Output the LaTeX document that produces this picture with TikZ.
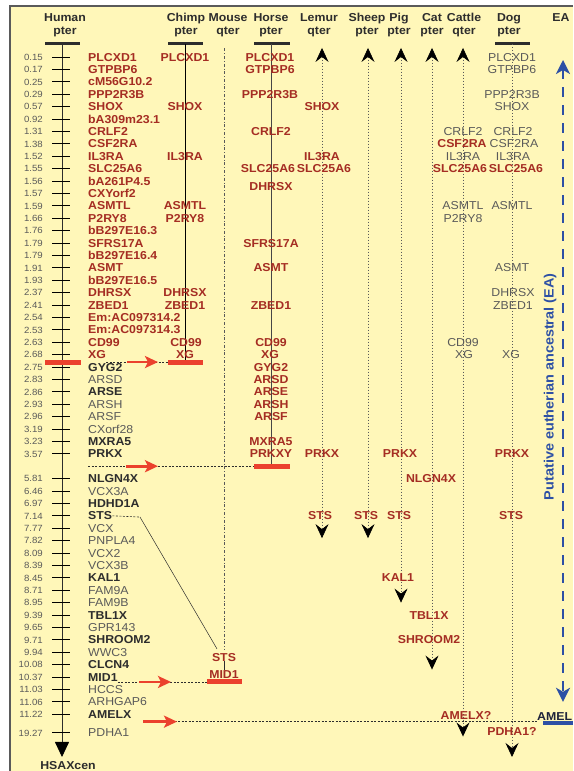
\documentclass[tikz,border=0pt]{standalone}
\usepackage{fontspec}
\setmainfont{Liberation Sans}[FakeStretch=1.07]
\usetikzlibrary{arrows.meta}
\definecolor{panel}{RGB}{255,247,185}
\definecolor{framecol}{RGB}{90,90,90}
\definecolor{genered}{RGB}{165,45,35}
\definecolor{genedark}{RGB}{45,45,45}
\definecolor{genegray}{RGB}{90,90,90}
\definecolor{barred}{RGB}{235,65,45}
\definecolor{eablue}{RGB}{45,80,165}
\definecolor{amelcol}{RGB}{30,35,60}
\newcommand{\genefont}{\fontsize{11.5}{13}\selectfont}
\newcommand{\numfont}{\fontsize{9}{10}\selectfont}
\tikzset{
  hdr/.style={font=\genefont\bfseries, text=genedark, align=center, inner sep=0pt},
  gene/.style={inner sep=0pt, text height=8.2pt, text depth=0pt},
  rg/.style={gene, font=\genefont\bfseries, text=genered},
  bg/.style={gene, font=\genefont\bfseries, text=genedark},
  gg/.style={gene, font=\genefont, text=genegray},
  num/.style={gene, font=\numfont, text=genegray, anchor=east, text height=6.4pt},
  tickln/.style={black, line width=0.9pt},
  chrbar/.style={genedark, line width=3pt},
  redbar/.style={barred, line width=5pt},
  redarrow/.style={barred, line width=2.6pt, -{Stealth[length=13pt,width=12pt,inset=3pt]}},
  link/.style={genedark, line width=0.6pt, dash pattern=on 2pt off 1.5pt},
  coldot/.style={gray!70!black, line width=0.7pt, dash pattern=on 1.2pt off 1.8pt},
  eaarrow/.style={eablue, line width=2.5pt, dash pattern=on 10pt off 8pt,
    {Stealth[length=14pt,width=14pt,inset=4pt]}-{Stealth[length=14pt,width=14pt,inset=4pt]}}
}
\begin{document}
\begin{tikzpicture}[x=1pt, y=-12.4pt, >={Stealth[length=14pt,width=13pt,inset=5pt,black]}]
\useasboundingbox (0,-4.597) rectangle (573,57.58);
\fill[panel] (10,-4.11) rectangle (573,57.58);
\draw[framecol, line width=1.5pt] (10,57.58) -- (10,-4.11) -- (573,-4.11);

\node[hdr] (hdhum) at (65,-2.58) {Human\\pter};
\node[hdr] (hdchi) at (186,-2.58) {Chimp\\pter};
\node[hdr] (hdmou) at (228,-2.58) {Mouse\\qter};
\node[hdr] (hdhor) at (271,-2.58) {Horse\\pter};
\node[hdr] (hdlem) at (319,-2.58) {Lemur\\qter};
\node[hdr] (hdshe) at (367,-2.58) {Sheep\\pter};
\node[hdr] (hdpig) at (399,-2.58) {Pig\\pter};
\node[hdr] (hdcat) at (432,-2.58) {Cat\\pter};
\node[hdr] (hdcow) at (464,-2.58) {Cattle\\qter};
\node[hdr] (hddog) at (509,-2.58) {Dog\\pter};
\node[hdr] (hdea) at (561,-3.2) {EA};

\coordinate (htop) at (62,-1.05);
\coordinate (hend) at (62,56.45);
\draw[genedark, line width=0.8pt, -{Triangle[length=15pt,width=14pt,black]}] (htop) -- (hend);
\draw[chrbar] (45,-1.05) -- (80,-1.05);
\foreach \r in {0,...,32} \draw[tickln] (52,\r) -- (70,\r);
\foreach \r in {34,...,53,54.5} \draw[tickln] (52,\r) -- (70,\r);
\node[bg] (hcen) at (68,57.1) {HSAXcen};

\node[num] (n0) at (43,0) {0.15};
\node[num] (n1) at (43,1) {0.17};
\node[num] (n2) at (43,2) {0.25};
\node[num] (n3) at (43,3) {0.29};
\node[num] (n4) at (43,4) {0.57};
\node[num] (n5) at (43,5) {0.92};
\node[num] (n6) at (43,6) {1.31};
\node[num] (n7) at (43,7) {1.38};
\node[num] (n8) at (43,8) {1.52};
\node[num] (n9) at (43,9) {1.55};
\node[num] (n10) at (43,10) {1.56};
\node[num] (n11) at (43,11) {1.57};
\node[num] (n12) at (43,12) {1.59};
\node[num] (n13) at (43,13) {1.66};
\node[num] (n14) at (43,14) {1.76};
\node[num] (n15) at (43,15) {1.79};
\node[num] (n16) at (43,16) {1.79};
\node[num] (n17) at (43,17) {1.91};
\node[num] (n18) at (43,18) {1.93};
\node[num] (n19) at (43,19) {2.37};
\node[num] (n20) at (43,20) {2.41};
\node[num] (n21) at (43,21) {2.54};
\node[num] (n22) at (43,22) {2.53};
\node[num] (n23) at (43,23) {2.63};
\node[num] (n24) at (43,24) {2.68};
\node[num] (n25) at (43,25) {2.75};
\node[num] (n26) at (43,26) {2.83};
\node[num] (n27) at (43,27) {2.86};
\node[num] (n28) at (43,28) {2.93};
\node[num] (n29) at (43,29) {2.96};
\node[num] (n30) at (43,30) {3.19};
\node[num] (n31) at (43,31) {3.23};
\node[num] (n32) at (43,32) {3.57};
\node[num] (n34) at (43,34) {5.81};
\node[num] (n35) at (43,35) {6.46};
\node[num] (n36) at (43,36) {6.97};
\node[num] (n37) at (43,37) {7.14};
\node[num] (n38) at (43,38) {7.77};
\node[num] (n39) at (43,39) {7.82};
\node[num] (n40) at (43,40) {8.09};
\node[num] (n41) at (43,41) {8.39};
\node[num] (n42) at (43,42) {8.45};
\node[num] (n43) at (43,43) {8.71};
\node[num] (n44) at (43,44) {8.95};
\node[num] (n45) at (43,45) {9.39};
\node[num] (n46) at (43,46) {9.65};
\node[num] (n47) at (43,47) {9.71};
\node[num] (n48) at (43,48) {9.94};
\node[num] (n49) at (43,49) {10.08};
\node[num] (n50) at (43,50) {10.37};
\node[num] (n51) at (43,51) {11.03};
\node[num] (n52) at (43,52) {11.06};
\node[num] (n53) at (43,53) {11.22};
\node[num] (n54) at (43,54.5) {19.27};

\node[rg, anchor=west] (h0) at (88,0) {PLCXD1};
\node[rg, anchor=west] (h1) at (88,1) {GTPBP6};
\node[rg, anchor=west] (h2) at (88,2) {cM56G10.2};
\node[rg, anchor=west] (h3) at (88,3) {PPP2R3B};
\node[rg, anchor=west] (h4) at (88,4) {SHOX};
\node[rg, anchor=west] (h5) at (88,5) {bA309m23.1};
\node[rg, anchor=west] (h6) at (88,6) {CRLF2};
\node[rg, anchor=west] (h7) at (88,7) {CSF2RA};
\node[rg, anchor=west] (h8) at (88,8) {IL3RA};
\node[rg, anchor=west] (h9) at (88,9) {SLC25A6};
\node[rg, anchor=west] (h10) at (88,10) {bA261P4.5};
\node[rg, anchor=west] (h11) at (88,11) {CXYorf2};
\node[rg, anchor=west] (h12) at (88,12) {ASMTL};
\node[rg, anchor=west] (h13) at (88,13) {P2RY8};
\node[rg, anchor=west] (h14) at (88,14) {bB297E16.3};
\node[rg, anchor=west] (h15) at (88,15) {SFRS17A};
\node[rg, anchor=west] (h16) at (88,16) {bB297E16.4};
\node[rg, anchor=west] (h17) at (88,17) {ASMT};
\node[rg, anchor=west] (h18) at (88,18) {bB297E16.5};
\node[rg, anchor=west] (h19) at (88,19) {DHRSX};
\node[rg, anchor=west] (h20) at (88,20) {ZBED1};
\node[rg, anchor=west] (h21) at (88,21) {Em:AC097314.2};
\node[rg, anchor=west] (h22) at (88,22) {Em:AC097314.3};
\node[rg, anchor=west] (h23) at (88,23) {CD99};
\node[rg, anchor=west] (h24) at (88,24) {XG};
\node[bg, anchor=west] (h25) at (88,25) {GYG2};
\node[gg, anchor=west] (h26) at (88,26) {ARSD};
\node[bg, anchor=west] (h27) at (88,27) {ARSE};
\node[gg, anchor=west] (h28) at (88,28) {ARSH};
\node[gg, anchor=west] (h29) at (88,29) {ARSF};
\node[gg, anchor=west] (h30) at (88,30) {CXorf28};
\node[bg, anchor=west] (h31) at (88,31) {MXRA5};
\node[bg, anchor=west] (h32) at (88,32) {PRKX};
\node[bg, anchor=west] (h34) at (88,34) {NLGN4X};
\node[gg, anchor=west] (h35) at (88,35) {VCX3A};
\node[bg, anchor=west] (h36) at (88,36) {HDHD1A};
\node[bg, anchor=west] (h37) at (88,37) {STS};
\node[gg, anchor=west] (h38) at (88,38) {VCX};
\node[gg, anchor=west] (h39) at (88,39) {PNPLA4};
\node[gg, anchor=west] (h40) at (88,40) {VCX2};
\node[gg, anchor=west] (h41) at (88,41) {VCX3B};
\node[bg, anchor=west] (h42) at (88,42) {KAL1};
\node[gg, anchor=west] (h43) at (88,43) {FAM9A};
\node[gg, anchor=west] (h44) at (88,44) {FAM9B};
\node[bg, anchor=west] (h45) at (88,45) {TBL1X};
\node[gg, anchor=west] (h46) at (88,46) {GPR143};
\node[bg, anchor=west] (h47) at (88,47) {SHROOM2};
\node[gg, anchor=west] (h48) at (88,48) {WWC3};
\node[bg, anchor=west] (h49) at (88,49) {CLCN4};
\node[bg, anchor=west] (h50) at (88,50) {MID1};
\node[gg, anchor=west] (h51) at (88,51) {HCCS};
\node[gg, anchor=west] (h52) at (88,52) {ARHGAP6};
\node[bg, anchor=west] (h53) at (88,53) {AMELX};
\node[gg, anchor=west] (h54) at (88,54.5) {PDHA1};

\draw[chrbar] (168,-1.05) -- (203,-1.05);
\coordinate (chtop) at (185,-1.05);
\coordinate (chend) at (185,24.6);
\draw[black, line width=0.8pt] (chtop) -- (chend);
\node[rg] (ch0) at (185,0) {PLCXD1};
\node[rg] (ch4) at (185,4) {SHOX};
\node[rg] (ch8) at (185,8) {IL3RA};
\node[rg] (ch12) at (185,12) {ASMTL};
\node[rg] (ch13) at (185,13) {P2RY8};
\node[rg] (ch19) at (185,19) {DHRSX};
\node[rg] (ch20) at (185,20) {ZBED1};
\node[rg] (ch23) at (186,23) {CD99};
\node[rg] (ch24) at (185,24) {XG};
\draw[redbar] (45,24.6) -- (81,24.6);
\draw[redbar] (168,24.6) -- (203,24.6);
\coordinate (chbar) at (168,24.6);
\coordinate (xga) at (127,24.6);
\coordinate (xgb) at (158,24.6);
\draw[link] (h24.south east |- chbar) -- (chbar);
\draw[redarrow] (xga) -- (xgb);

\coordinate (mtop) at (224,-0.7);
\node[rg] (msts) at (224,48.4) {STS};
\node[rg] (mmid) at (224,49.8) {MID1};
\draw[gray!70!black, line width=0.6pt, dash dot] (mtop) -- ([yshift=4pt]msts.north);
\draw[genedark, line width=0.6pt] (msts.south) -- (mmid.north);
\draw[redbar] (207,50.4) -- (242,50.4);
\coordinate (mbar) at (207,50.4);
\coordinate (stsk) at (140,37.1);
\draw[link] (h37.east) -- (stsk);
\draw[genedark, line width=0.5pt] (stsk) -- ([xshift=-7pt,yshift=4pt]msts.north);
\coordinate (mida) at (139,50.4);
\coordinate (midb) at (171,50.4);
\draw[link] (h50.south east |- mbar) -- (mbar);
\draw[redarrow] (mida) -- (midb);

\draw[chrbar] (254,-1.05) -- (290,-1.05);
\coordinate (hotop) at (271,-1.05);
\coordinate (hoend) at (271,33);
\draw[gray!55!black, line width=1pt] (hotop) -- (hoend);
\node[rg] (ho0) at (270,0) {PLCXD1};
\node[rg] (ho1) at (270,1) {GTPBP6};
\node[rg] (ho3) at (270,3) {PPP2R3B};
\node[rg] (ho6) at (271,6) {CRLF2};
\node[rg] (ho9) at (268,9) {SLC25A6};
\node[rg] (ho10) at (271,10.4) {DHRSX};
\node[rg] (ho15) at (271,15) {SFRS17A};
\node[rg] (ho17) at (271,17) {ASMT};
\node[rg] (ho20) at (271,20) {ZBED1};
\node[rg] (ho23) at (271,23) {CD99};
\node[rg] (ho24) at (270,24) {XG};
\node[rg] (ho25) at (271,25) {GYG2};
\node[rg] (ho26) at (271,26) {ARSD};
\node[rg] (ho27) at (271,27) {ARSE};
\node[rg] (ho28) at (271,28) {ARSH};
\node[rg] (ho29) at (271,29) {ARSF};
\node[rg] (ho31) at (271,31) {MXRA5};
\node[rg] (ho32) at (271,32) {PRKXY};
\draw[redbar] (254,33) -- (290,33);
\coordinate (hobar) at (254,33);
\coordinate (prka) at (126,33);
\coordinate (prkb) at (158,33);
\draw[link] (h32.west |- hobar) -- (hobar);
\draw[redarrow] (prka) -- (prkb);

\coordinate (lemT) at (322,-0.73);
\coordinate (lemB) at (322,38.8);
\draw[coldot, <->] (lemT) -- (lemB);
\node[rg] (lem4) at (322,4) {SHOX};
\node[rg] (lem8) at (322,8) {IL3RA};
\node[rg] (lem9) at (324,9) {SLC25A6};
\node[rg] (lem32) at (322,32) {PRKX};
\node[rg] (lem37) at (320,37) {STS};

\coordinate (sheT) at (368,-0.73);
\coordinate (sheB) at (368,38.8);
\draw[coldot, <->] (sheT) -- (sheB);
\node[rg] (she37) at (366,37) {STS};

\coordinate (pigT) at (401,-0.73);
\coordinate (pigB) at (401,44);
\draw[coldot, <->] (pigT) -- (pigB);
\node[rg] (pig32) at (400,32) {PRKX};
\node[rg] (pig37) at (399,37) {STS};
\node[rg] (pig42) at (398,42) {KAL1};

\coordinate (catT) at (432,-0.73);
\coordinate (catB) at (432,49.4);
\draw[coldot, <->] (catT) -- (catB);
\node[rg] (cat34) at (431,34) {NLGN4X};
\node[rg] (cat45) at (429,45) {TBL1X};
\node[rg] (cat47) at (429,47) {SHROOM2};

\coordinate (cowT) at (463,-0.73);
\coordinate (cowB) at (463,54.8);
\draw[coldot, <->] (cowT) -- (cowB);
\node[gg] (cow6) at (463,6) {CRLF2};
\node[rg] (cow7) at (462,7) {CSF2RA};
\node[gg] (cow8) at (463,8) {IL3RA};
\node[rg] (cow9) at (460,9) {SLC25A6};
\node[gg] (cow12) at (463,12) {ASMTL};
\node[gg] (cow13) at (463,13) {P2RY8};
\node[gg] (cow23) at (463,23) {CD99};
\node[gg] (cow24) at (464,24) {XG};
\node[rg] (cow53) at (466,53.06) {AMELX?};

\draw[chrbar] (495,-1.05) -- (530,-1.05);
\coordinate (dogT) at (512,-1.05);
\coordinate (dogB) at (512,56.45);
\draw[coldot, ->] (dogT) -- (dogB);
\node[gg] (dog0) at (512,0) {PLCXD1};
\node[gg] (dog1) at (512,1) {GTPBP6};
\node[gg] (dog3) at (512,3) {PPP2R3B};
\node[gg] (dog4) at (512,4) {SHOX};
\node[gg] (dog6) at (513,6) {CRLF2};
\node[gg] (dog7) at (514,7) {CSF2RA};
\node[gg] (dog8) at (513,8) {IL3RA};
\node[rg] (dog9) at (516,9) {SLC25A6};
\node[gg] (dog12) at (512,12) {ASMTL};
\node[gg] (dog17) at (512,17) {ASMT};
\node[gg] (dog19) at (513,19) {DHRSX};
\node[gg] (dog20) at (513,20) {ZBED1};
\node[gg] (dog24) at (511,24) {XG};
\node[rg] (dog32) at (512,32) {PRKX};
\node[rg] (dog37) at (511,37) {STS};
\node[rg] (dog54) at (512,54.4) {PDHA1?};

\coordinate (eaT) at (563,0.24);
\coordinate (eaB) at (563,52);
\draw[eaarrow] (eaT) -- (eaB);
\node[font=\fontsize{13.5}{15}\selectfont\bfseries, text=eablue, rotate=90, inner sep=0pt] (eatxt) at (550,26.6) {Putative eutherian ancestral (EA)};

\node[font=\genefont\bfseries, text=amelcol, anchor=west, inner sep=0pt] (amel) at (537,53.15) {AMEL};
\draw[eablue, line width=4pt] (543,53.7) -- (573,53.7);
\coordinate (amla) at (143,53.6);
\coordinate (amlb) at (177,53.6);
\draw[link] (amla) -- (amel.west |- amla);
\draw[redarrow] (amla) -- (amlb);
\end{tikzpicture}
\end{document}
